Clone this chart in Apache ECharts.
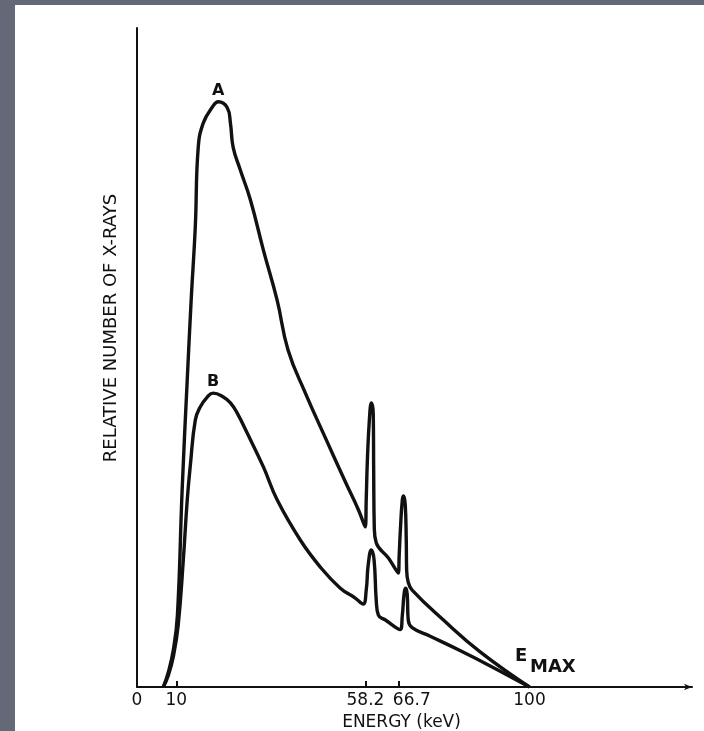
<!DOCTYPE html>
<html>
<head>
<meta charset="utf-8">
<script src="https://cdn.jsdelivr.net/npm/echarts@6/dist/echarts.min.js"></script>
<style>
  html, body { margin: 0; padding: 0; background: #646978; }
  #chart { width: 704px; height: 731px; }
</style>
</head>
<body>
<div id="chart"></div>
<script>
// energy (keV) and relative number of x-rays
var aEnergy = [6.7, 8.0, 9.25, 10.3, 11.5, 12.8, 13.8, 14.85, 15.6, 16.9, 19.2, 20.7, 23.0, 23.8, 24.5, 26.3, 28.9, 32.2, 35.7, 38.5, 42.9, 48.0, 53.1, 56.4, 58.15, 58.4, 58.7, 59.2, 59.7, 60.2, 60.3, 60.45, 60.95, 64.0, 66.55, 66.8, 67.1, 67.6, 67.95, 68.35, 68.6, 68.7, 69.1, 70.1, 78.0, 87.5, 100];
var aCount  = [0, 2.3, 5.6, 10.9, 29.9, 46.6, 58.7, 69.8, 81.9, 85.6, 88.0, 88.8, 87.9, 85.6, 81.9, 78.5, 73.9, 66.3, 58.7, 51.1, 44.6, 37.8, 31.1, 26.9, 24.3, 28.4, 34.5, 40.5, 43.1, 41.3, 32.9, 24.3, 21.9, 19.6, 17.3, 20.0, 23.8, 28.4, 29.0, 27.6, 22.3, 17.8, 15.9, 14.7, 10.2, 5.3, 0];

var bEnergy = [6.7, 8.0, 9.25, 10.5, 11.8, 12.8, 13.6, 14.85, 16.1, 17.9, 19.4, 22.0, 23.8, 25.5, 28.1, 32.2, 35.7, 41.6, 46.7, 51.8, 55.6, 57.6, 58.4, 58.9, 59.7, 60.4, 60.95, 61.5, 63.2, 67.05, 67.6, 68.1, 68.5, 68.85, 69.1, 70.1, 74.7, 82.4, 90.0, 100];
var bCount  = [0, 1.8, 4.6, 9.4, 19.3, 28.4, 33.7, 40.5, 42.5, 44.0, 44.6, 44.0, 43.1, 41.6, 38.5, 33.4, 28.4, 22.3, 18.2, 15.0, 13.5, 12.6, 14.7, 18.5, 20.8, 19.3, 13.2, 10.9, 10.2, 8.7, 10.9, 14.4, 15.0, 14.0, 10.2, 9.0, 7.7, 5.5, 3.2, 0];

var tickValues = [10, 58.2, 66.7];
var labelValues = [0, 10, 58.2, 66.7, 100];

var ink = '#111';
var letterFont = 'DejaVu Sans';

// put the curve letter on the main peak
function buildData(xs, ys, peakName) {
    var peak = ys.indexOf(Math.max.apply(null, ys.slice(0, 20)));
    return xs.map(function (x, i) {
        var item = { value: [x, ys[i]] };
        if (i === peak) {
            item.symbol = 'circle';
            item.symbolSize = 2;
            item.itemStyle = { color: 'rgba(0,0,0,0)' };
            item.label = { show: true, formatter: peakName };
        }
        return item;
    });
}

var chart = echarts.init(document.getElementById('chart'));

var lineSeries = function (name, xs, ys) {
    return {
        name: name,
        type: 'line',
        data: buildData(xs, ys, name),
        symbol: 'none',
        showSymbol: true,
        smooth: 0.45,
        lineStyle: { color: ink, width: 3.4, join: 'round' },
        label: { position: 'top', distance: 2, color: ink, fontFamily: letterFont, fontWeight: 'bold', fontSize: 16 }
    };
};

chart.setOption({
    backgroundColor: '#646978',
    animation: false,
    graphic: [
        { type: 'rect', shape: { x: 15, y: 5, width: 689, height: 726 }, style: { fill: '#fff' }, z: -10 },
        { type: 'text', x: 111, y: 328, rotation: Math.PI / 2,
          style: { text: 'RELATIVE NUMBER OF X-RAYS', fill: ink, font: '18px "DejaVu Sans"', align: 'center', verticalAlign: 'middle' } },
        { type: 'text', x: 515, y: 647, style: { text: 'E', fill: ink, font: 'bold 18px "DejaVu Sans"' } },
        { type: 'text', x: 530, y: 658, style: { text: 'MAX', fill: ink, font: 'bold 18px "DejaVu Sans"' } }
    ],
    grid: { left: 137, right: 12, top: 28, bottom: 44, outerBoundsMode: 'none' },
    xAxis: {
        type: 'value',
        min: 0,
        max: 141.4,
        name: 'ENERGY (keV)',
        nameLocation: 'middle',
        nameGap: 21,
        nameTextStyle: { color: ink, fontFamily: letterFont, fontSize: 17, padding: [0, 26, 0, 0] },
        axisLine: { lineStyle: { color: ink, width: 2 }, symbol: ['none', 'arrow'], symbolSize: [5, 8] },
        axisTick: { show: true, inside: true, length: 6, customValues: tickValues, lineStyle: { color: ink, width: 2 } },
        axisLabel: {
            customValues: labelValues,
            color: ink,
            fontFamily: letterFont,
            fontSize: 17,
            margin: 5,
            formatter: function (v) { return v === 66.7 ? '{r|66.7}' : String(v); },
            rich: { r: { color: ink, fontFamily: letterFont, fontSize: 17, padding: [0, 0, 0, 26] } }
        },
        splitLine: { show: false }
    },
    yAxis: {
        type: 'value',
        min: 0,
        max: 100,
        axisLine: { show: true, lineStyle: { color: ink, width: 2 } },
        axisTick: { show: false },
        axisLabel: { show: false },
        splitLine: { show: false }
    },
    series: [
        lineSeries('A', aEnergy, aCount),
        lineSeries('B', bEnergy, bCount)
    ]
});
</script>
</body>
</html>
